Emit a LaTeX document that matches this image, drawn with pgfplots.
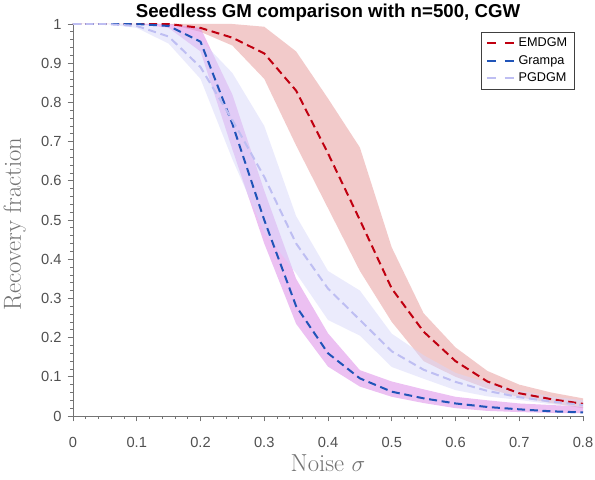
\documentclass[border=0pt]{standalone}
\usepackage{fontspec}
\setsansfont{Liberation Sans}
\usepackage{pgfplots}
\pgfplotsset{compat=1.18}
\usepackage{pgfplotstable}
\usepgfplotslibrary{fillbetween}

\definecolor{emdline}{RGB}{192,0,16}
\definecolor{emdfill}{RGB}{230,150,150}
\definecolor{grline}{RGB}{32,84,184}
\definecolor{grfill}{RGB}{220,140,232}
\definecolor{pgline}{RGB}{190,190,242}
\definecolor{pgfill}{RGB}{215,215,250}
\definecolor{axgray}{RGB}{115,115,115}
\definecolor{txtgray}{RGB}{80,80,80}

\pgfplotstableread{
x m lo hi
0 1 1 1
0.05 1 1 1
0.1 1 1 1
0.15 1 1 1
0.2 0.99 0.98 1
0.25 0.965 0.945 1
0.3 0.925 0.86 0.993
0.35 0.83 0.69 0.93
0.4 0.67 0.53 0.81
0.45 0.50 0.37 0.685
0.5 0.325 0.24 0.43
0.55 0.215 0.14 0.262
0.6 0.14 0.10 0.175
0.65 0.088 0.07 0.115
0.7 0.058 0.048 0.08
0.75 0.043 0.033 0.06
0.8 0.031 0.02 0.045
}\emd

\pgfplotstableread{
x m lo hi
0 1 1 1
0.05 1 1 1
0.1 1 1 1
0.15 0.995 0.99 1
0.2 0.955 0.93 0.99
0.25 0.745 0.68 0.82
0.3 0.50 0.44 0.575
0.35 0.28 0.235 0.35
0.4 0.16 0.126 0.211
0.45 0.096 0.075 0.117
0.5 0.062 0.049 0.088
0.55 0.045 0.033 0.068
0.6 0.032 0.02 0.049
0.65 0.023 0.013 0.04
0.7 0.017 0.01 0.032
0.75 0.012 0.008 0.028
0.8 0.009 0.007 0.024
}\grampa

\pgfplotstableread{
x m lo hi
0 1 1 1
0.05 1 1 1
0.1 0.995 0.99 1
0.15 0.968 0.95 0.99
0.2 0.89 0.86 0.96
0.25 0.755 0.655 0.875
0.3 0.61 0.47 0.74
0.35 0.44 0.364 0.51
0.4 0.325 0.245 0.37
0.45 0.245 0.205 0.32
0.5 0.165 0.125 0.21
0.55 0.118 0.095 0.155
0.6 0.087 0.066 0.11
0.65 0.064 0.05 0.085
0.7 0.048 0.041 0.065
0.75 0.037 0.03 0.05
0.8 0.028 0.022 0.04
}\pgdgm

\begin{document}
\begin{tikzpicture}
\begin{axis}[
  name=ax,
  scale only axis,
  width=382.5pt, height=294pt,
  xmin=0, xmax=0.8, ymin=0, ymax=1,
  axis x line*=bottom, axis y line*=left,
  axis line style={axgray, line width=0.6pt},
  tick align=outside,
  major tick length=4pt, minor tick length=2.2pt,
  every tick/.style={axgray, line width=0.5pt},
  xtick={0,0.1,0.2,0.3,0.4,0.5,0.6,0.7,0.8},
  xticklabels={0,0.1,0.2,0.3,0.4,0.5,0.6,0.7,0.8},
  ytick={0,0.1,0.2,0.3,0.4,0.5,0.6,0.7,0.8,0.9,1},
  yticklabels={0,0.1,0.2,0.3,0.4,0.5,0.6,0.7,0.8,0.9,1},
  minor x tick num=4, minor y tick num=4,
  tick label style={font=\sffamily\fontsize{11}{13}\selectfont, text=txtgray},
  xticklabel style={yshift=-8.5pt},
  yticklabel style={xshift=-1pt},
  xlabel={Noise $\sigma$},
  ylabel={Recovery fraction},
  label style={font=\fontsize{18.5}{21}\selectfont, text=axgray},
  xlabel style={at={(axis description cs:0.5,-0.142)}, anchor=base},
  ylabel style={at={(axis description cs:-0.102,0.49)}, anchor=base},
  title={Seedless GM comparison with n=500, CGW},
  title style={font=\sffamily\bfseries\fontsize{14}{16}\selectfont, text=black, at={(0.5,1)}, anchor=base, yshift=-1.5pt},
  legend style={at={(0.984,0.98)}, anchor=north east, draw=black!75, line width=0.5pt,
    font=\sffamily\fontsize{9.5}{11}\selectfont, inner xsep=3.5pt, inner ysep=2pt, row sep=1.2pt,
    /tikz/every even column/.append style={column sep=2pt},
    cells={anchor=west}},
  legend image code/.code={\draw[#1, dash pattern=on 6.5pt off 7pt] (0pt,0pt) -- (21pt,0pt);},
  clip=true,
]
% bands
\addplot[draw=none, name path=emdhi, forget plot] table[x=x,y=hi]{\emd};
\addplot[draw=none, name path=emdlo, forget plot] table[x=x,y=lo]{\emd};
\addplot[emdfill, fill opacity=0.5, draw=none, forget plot] fill between[of=emdhi and emdlo];
\addplot[draw=none, name path=grhi, forget plot] table[x=x,y=hi]{\grampa};
\addplot[draw=none, name path=grlo, forget plot] table[x=x,y=lo]{\grampa};
\addplot[grfill, fill opacity=0.55, draw=none, forget plot] fill between[of=grhi and grlo];
\addplot[draw=none, name path=pghi, forget plot] table[x=x,y=hi]{\pgdgm};
\addplot[draw=none, name path=pglo, forget plot] table[x=x,y=lo]{\pgdgm};
\addplot[pgfill, fill opacity=0.5, draw=none, forget plot] fill between[of=pghi and pglo];
% lines
\addplot[emdline, line width=1.5pt, dash pattern=on 6pt off 3.5pt] table[x=x,y=m]{\emd};
\addplot[grline, line width=1.5pt, dash pattern=on 6pt off 3.5pt] table[x=x,y=m]{\grampa};
\addplot[pgline, line width=1.5pt, dash pattern=on 6pt off 3.5pt] table[x=x,y=m]{\pgdgm};
\legend{EMDGM,Grampa,PGDGM}
\end{axis}
\pgfresetboundingbox
\path[use as bounding box] ([xshift=-54.75pt,yshift=-48pt]ax.south west) rectangle ([xshift=9pt,yshift=18pt]ax.north east);
\end{tikzpicture}
\end{document}
